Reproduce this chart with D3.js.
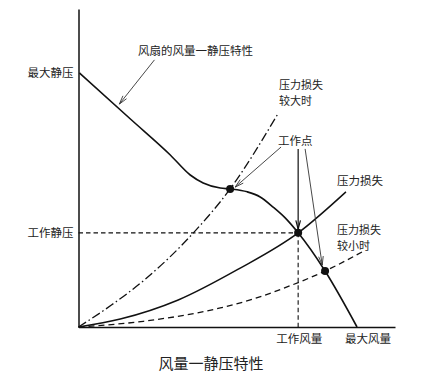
<!DOCTYPE html>
<html>
<head>
<meta charset="utf-8">
<script src="https://cdn.jsdelivr.net/npm/d3@7"></script>
<style>
html,body{margin:0;padding:0;background:#fff;}
svg{display:block;font-family:"Noto Sans CJK SC","Noto Sans",sans-serif;}
</style>
</head>
<body>
<svg id="chart" width="447" height="381"></svg>
<script>
// ---- data (x: flow, y: static pressure; arbitrary units 0-100) ----
const fanCurve = [
  [0.3,79.9],[16.4,65.4],[29.0,54.1],[35.3,47.8],[39.4,45.3],[44.8,43.7],
  [47.9,43.4],[53.3,42.5],[57.4,40.9],[61.5,37.7],[65.3,34.3],[69.4,29.6],
  [77.9,17.6],[88.0,0]
];
const lossNormal = [[0,0],[13.2,2.5],[31.5,8.5],[50.5,18.2],[69.4,29.6],[84.5,42.5]];
const lossSmall  = [[0,0],[20.5,1.8],[44.8,6.0],[55.2,8.8],[65.9,12.6],[77.9,17.6],[89.6,23.6]];
const lossLarge  = [[0,0],[10.4,6.9],[20.8,14.8],[36.3,29.6],[47.9,43.4],[62.8,66.7]];
const points = [[47.9,43.4],[69.4,29.6],[77.9,17.6]];
const workFlow = 69.4, workPressure = 29.6, maxPressure = 79.9, maxFlow = 88.0;
const yTickValues = [maxPressure, workPressure];
const yTickLabels = ["最大静压", "工作静压"];
const xLabels = ["工作风量", "最大风量"];
// annotation arrows [from, to]
const arrows = [
  [[24.0,84.0],[12.9,70.1]],
  [[64.0,56.6],[49.5,44.0]],
  [[71.6,56.0],[77.0,19.5]]
];
const arrowMain = [[69.4,56.0],[69.4,30.8]];

// ---- scales ----
const svg = d3.select("#chart");
const x = d3.scaleLinear().domain([0,100]).range([78.5,395]);
const y = d3.scaleLinear().domain([0,100]).range([327,9]);

// axes
const yAxis = d3.axisLeft(y).tickValues(yTickValues).tickSize(0).tickPadding(5)
  .tickFormat((d,i)=>yTickLabels[i]);
const gy = svg.append("g").attr("transform",`translate(${x(0)},0)`).call(yAxis);
gy.select(".domain").attr("stroke","#111").attr("stroke-width",1.5);
gy.selectAll("text").attr("font-size",11.5).attr("fill","#222")
  .attr("font-family","Noto Sans CJK SC");

const xAxis = d3.axisBottom(x).tickValues([]).tickSize(0);
const gx = svg.append("g").attr("transform",`translate(0,${y(0)})`).call(xAxis);
gx.select(".domain").attr("stroke","#111").attr("stroke-width",1.5);

// reference dashed lines
svg.append("line").attr("x1",x(0)).attr("x2",x(workFlow))
  .attr("y1",y(workPressure)).attr("y2",y(workPressure))
  .attr("stroke","#111").attr("stroke-width",1.1).attr("stroke-dasharray","4.5,3");
svg.append("line").attr("x1",x(workFlow)).attr("x2",x(workFlow))
  .attr("y1",y(workPressure)).attr("y2",y(0))
  .attr("stroke","#111").attr("stroke-width",1.1).attr("stroke-dasharray","4.5,3");

const line = d3.line().x(d=>x(d[0])).y(d=>y(d[1])).curve(d3.curveMonotoneX);

svg.append("path").datum(lossLarge).attr("d",line).attr("fill","none")
  .attr("stroke","#111").attr("stroke-width",1.3).attr("stroke-dasharray","9,3,1.5,3");
svg.append("path").datum(lossSmall).attr("d",line).attr("fill","none")
  .attr("stroke","#111").attr("stroke-width",1.3).attr("stroke-dasharray","6,4");
svg.append("path").datum(lossNormal).attr("d",line).attr("fill","none")
  .attr("stroke","#111").attr("stroke-width",1.5);
svg.append("path").datum(fanCurve).attr("d",line).attr("fill","none")
  .attr("stroke","#111").attr("stroke-width",1.6);

// arrows
function drawArrow(a, color, width){
  const x1=x(a[0][0]), y1=y(a[0][1]), x2=x(a[1][0]), y2=y(a[1][1]);
  svg.append("line").attr("x1",x1).attr("y1",y1).attr("x2",x2).attr("y2",y2)
    .attr("stroke",color).attr("stroke-width",width);
  const ang = Math.atan2(y2-y1, x2-x1), L=9, h=0.26;
  const p1=[x2-L*Math.cos(ang-h), y2-L*Math.sin(ang-h)];
  const p2=[x2-L*Math.cos(ang+h), y2-L*Math.sin(ang+h)];
  svg.append("path").attr("d",`M${p1[0]},${p1[1]}L${x2},${y2}L${p2[0]},${p2[1]}`)
    .attr("fill","none").attr("stroke",color).attr("stroke-width",width);
}
arrows.forEach(a=>drawArrow(a,"#333",0.9));
drawArrow(arrowMain,"#111",1.2);

// dots
svg.selectAll("circle.pt").data(points).enter().append("circle")
  .attr("cx",d=>x(d[0])).attr("cy",d=>y(d[1])).attr("r",4).attr("fill","#111");

// text labels (multi-line labels as separate lines)
function label(lines, px, py, size, anchor, gap){
  if (!Array.isArray(lines)) lines = [lines];
  lines.forEach((s,i)=>{
    svg.append("text").attr("x",px).attr("y",py + i*(gap||0)).attr("font-size",size)
      .attr("fill","#222").attr("text-anchor",anchor||"start")
      .attr("dominant-baseline","central").text(s);
  });
}
label("风扇的风量一静压特性",138,50,11.5);
label(["压力损失","较大时"],279,83.5,11,"start",16);
label("工作点",278,140,11.5);
label("压力损失",337,180,11.5);
label(["压力损失","较小时"],337,228.5,11,"start",16);
label(xLabels[0], x(workFlow)+1, 338, 11.5, "middle");
label(xLabels[1], x(maxFlow)+11, 338, 11.5, "middle");
label("风量一静压特性",211,362,15,"middle");
</script>
</body>
</html>
